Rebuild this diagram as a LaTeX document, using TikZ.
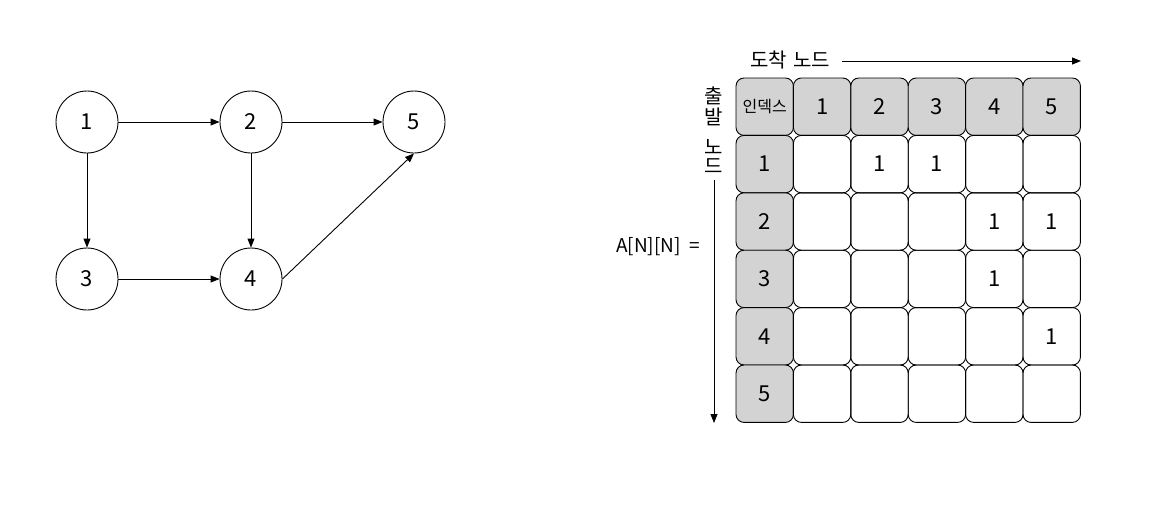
\documentclass[tikz,border=0pt]{standalone}
\usepackage{fontspec}
\setmainfont{Noto Sans CJK KR}
\usetikzlibrary{arrows.meta}
\definecolor{cellgray}{RGB}{211,211,211}
\tikzset{
  gnode/.style={circle,draw,line width=0.9pt,minimum size=62pt,inner sep=0pt,font=\fontsize{22}{22}\selectfont},
  edge/.style={line width=0.9pt,-{Triangle[length=9pt,width=7pt]}},
  cell/.style={draw,line width=0.9pt,rounded corners=8pt,minimum size=57.4pt,inner sep=0pt,font=\fontsize{22}{22}\selectfont},
  hcell/.style={cell,fill=cellgray},
  lbl/.style={font=\fontsize{20}{20}\selectfont,inner sep=0pt},
  num/.style={font=\fontsize{22}{22}\selectfont}
}
\begin{document}
\begin{tikzpicture}[x=1pt,y=-1pt]
\useasboundingbox (0,0) rectangle (1166,520);
% graph
\node[gnode] (n1) at (87,122) {1};
\node[gnode] (n2) at (251,122) {2};
\node[gnode] (n5) at (414,122) {5};
\node[gnode] (n3) at (87,279) {3};
\node[gnode] (n4) at (251,279) {4};
\draw[edge] (n1) -- (n2);
\draw[edge] (n2) -- (n5);
\draw[edge] (n1) -- (n3);
\draw[edge] (n2) -- (n4);
\draw[edge] (n3) -- (n4);
\draw[edge] (n4.east) -- (n5.south);
% matrix
\def\px{57.4}
\foreach \c in {0,...,5}{
  \foreach \r in {0,...,5}{
    \pgfmathsetmacro{\xx}{736+\px*\c+\px/2}
    \pgfmathsetmacro{\yy}{78+\px*\r+\px/2}
    \ifnum\c=0 \def\st{hcell}\else\ifnum\r=0 \def\st{hcell}\else\def\st{cell}\fi\fi
    \node[\st] (c-\r-\c) at (\xx,\yy) {};
  }
}
\node[font=\fontsize{16}{16}\selectfont] at (c-0-0) {인덱스};
\foreach \i in {1,...,5}{
  \node[num] at (c-0-\i) {\i};
  \node[num] at (c-\i-0) {\i};
}
\foreach \r/\c in {1/2,1/3,2/4,2/5,3/4,4/5}{
  \node[num] at (c-\r-\c) {1};
}
% labels
\node[lbl,anchor=west] (top) at (750,60) {도착\hspace{6pt}노드};
\coordinate (tA) at (842,61);
\coordinate (tB) at (1081,61);
\draw[edge] (tA) -- (tB);
\node[lbl] (v1) at (714,96) {출};
\node[lbl] (v2) at (714,117) {발};
\node[lbl] (v3) at (714,147) {노};
\node[lbl] (v4) at (714,166) {드};
\coordinate (sA) at (714,180);
\coordinate (sB) at (714,423);
\draw[edge] (sA) -- (sB);
\node[anchor=east,font=\fontsize{19}{19}\selectfont,inner sep=0pt] (eq) at (700,247) {A[N][N]\ \ =};
\end{tikzpicture}
\end{document}
